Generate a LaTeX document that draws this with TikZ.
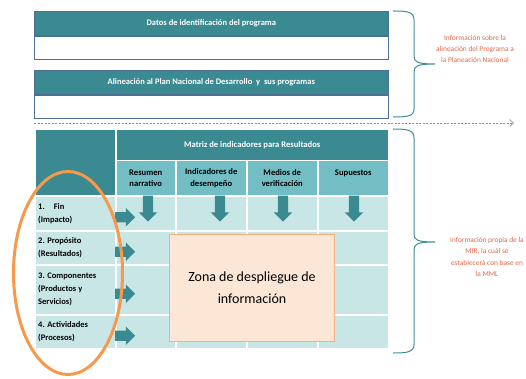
\documentclass[tikz,border=0pt]{standalone}
\usepackage{fontspec}
\setmainfont{Carlito}
\usetikzlibrary{positioning,arrows.meta,shapes.arrows,shapes.geometric}

\definecolor{tealdark}{HTML}{3C8A91}
\definecolor{teallight}{HTML}{72BEC4}
\definecolor{tealpale}{HTML}{C9E6E7}
\definecolor{boxline}{HTML}{4D6F94}
\definecolor{zonefill}{HTML}{FCE6D6}
\definecolor{zoneline}{HTML}{F4B07E}
\definecolor{ringorange}{HTML}{F7994A}
\definecolor{notered}{HTML}{E0674A}
\definecolor{bracecol}{HTML}{3F8D95}
\definecolor{dashcol}{HTML}{6A93AC}

\begin{document}
\begin{tikzpicture}[x=1pt,y=-1pt]
    \tikzstyle{hdr}=[rectangle,fill=tealdark,draw=boxline,line width=0.6pt,text=white,font=\bfseries\fontsize{8.5}{9}\selectfont,minimum width=354pt,minimum height=24pt,inner sep=0pt]
    \tikzstyle{blank}=[rectangle,fill=white,draw=boxline,line width=0.6pt,minimum width=354pt,minimum height=23pt,inner sep=0pt]
    \tikzstyle{cell}=[rectangle,draw=white,line width=1.5pt,anchor=north west,inner sep=0pt,text=black,font=\bfseries\fontsize{8.6}{11.5}\selectfont]
    \tikzstyle{lbl}=[anchor=west,align=left,inner sep=0pt,font=\bfseries\fontsize{8.5}{13}\selectfont]
    \tikzstyle{down}=[single arrow,rotate=-90,fill=tealdark,inner xsep=0pt,inner ysep=5pt,minimum height=26pt,single arrow head extend=4pt]
    \tikzstyle{fwd}=[single arrow,fill=tealdark,inner xsep=0pt,inner ysep=5pt,minimum height=20pt,single arrow head extend=4pt]
    \tikzstyle{zone}=[rectangle,anchor=north west,fill=zonefill,draw=zoneline,line width=1pt,minimum width=165pt,minimum height=107pt,align=center,font=\fontsize{14}{22}\selectfont]
    \tikzstyle{note}=[text=notered,align=center,inner sep=0pt,font=\fontsize{7.4}{11.3}\selectfont]
    \tikzstyle{brace}=[draw=bracecol,line width=1pt]

    \useasboundingbox (0,0) rectangle (526,379);

    % alignment boxes
    \node[hdr,anchor=north west] (datos) at (34,11) {Datos de identificación del programa};
    \node[blank,below=0pt of datos] (datos-box) {};
    \node[hdr,anchor=north west] (plan) at (34,70) {Alineación al Plan Nacional de Desarrollo\ \ y\ \ sus programas};
    \node[blank,below=0pt of plan] (plan-box) {};

    \coordinate (dash-s) at (34,123);
    \coordinate (dash-e) at (514,123);
    \draw[dashcol,line width=0.6pt,dash pattern=on 2pt off 1.5pt,-{Straight Barb[length=4pt,width=7pt]}] (dash-s) -- (dash-e);

    % matrix header
    \node[cell,fill=tealdark,minimum width=81pt,minimum height=66pt] (corner) at (34,129) {};
    \node[cell,fill=tealdark,minimum width=273pt,minimum height=31pt,text=white] (mir) at (115,129) {Matriz de indicadores para Resultados};
    \foreach \c/\x/\w/\txt in {res/115/60/{Resumen\\narrativo},ind/175/71/{Indicadores de\\desempeño},med/246/71/{Medios de\\verificación},sup/317/71/{Supuestos\\\mbox{}}}
        \node[cell,fill=teallight,minimum width=\w pt,minimum height=35pt,align=center] (col-\c) at (\x,160) {\txt};

    % rows
    \foreach \r/\y/\h in {1/195/35,2/230/34,3/264/50,4/314/34} {
        \node[cell,fill=tealpale,minimum width=81pt,minimum height=\h pt] (lab-\r) at (34,\y) {};
        \foreach \c/\x/\w in {res/115/60,ind/175/71,med/246/71,sup/317/71}
            \node[cell,fill=tealpale,minimum width=\w pt,minimum height=\h pt] (row-\r-\c) at (\x,\y) {};
    }
    \foreach \r/\txt in {1/{1.\hspace{9pt}Fin\\(Impacto)},2/{2. Propósito\\(Resultados)},3/{3. Componentes\\(Productos y\\Servicios)},4/{4. Actividades\\(Procesos)}} {
        \node[lbl] (lbl-\r) at ([xshift=4pt]lab-\r.west) {\txt};
        \node[fwd] (arr-\r) at ([xshift=6pt,yshift=-4pt]lab-\r.east) {};
    }
    \foreach \c/\x in {res/148,ind/220,med/283,sup/354}
        \node[down] (dn-\c) at (\x,206) {};

    \node[zone] (zona) at (169,234) {Zona de despliegue de\\información};

    \node[draw=ringorange,line width=3pt,ellipse,minimum width=109pt,minimum height=203pt,inner sep=0pt] (ring) at (68,273) {};

    % braces and notes
    \draw[brace] (393,11) .. controls (408,11) and (414,12) .. (414,20) -- (414,56) .. controls (414,62) and (417,64) .. (435,64)
        .. controls (417,64) and (414,66) .. (414,72) -- (414,109) .. controls (414,116) and (408,117) .. (393,117);
    \draw[brace] (393,129) .. controls (408,129) and (414,130) .. (414,138) -- (414,234) .. controls (414,240) and (417,242) .. (435,242)
        .. controls (417,242) and (414,244) .. (414,250) -- (414,344) .. controls (414,352) and (408,353) .. (393,353);

    \node[note] (note-plan) at (475,49) {Información sobre la\\alineación del Programa a\\la Planeación Nacional};
    \node[note] (note-mir) at (487,257) {Información propia de la\\MIR,\ la cuál se\\establecerá con base en\\la MML};
\end{tikzpicture}
\end{document}
